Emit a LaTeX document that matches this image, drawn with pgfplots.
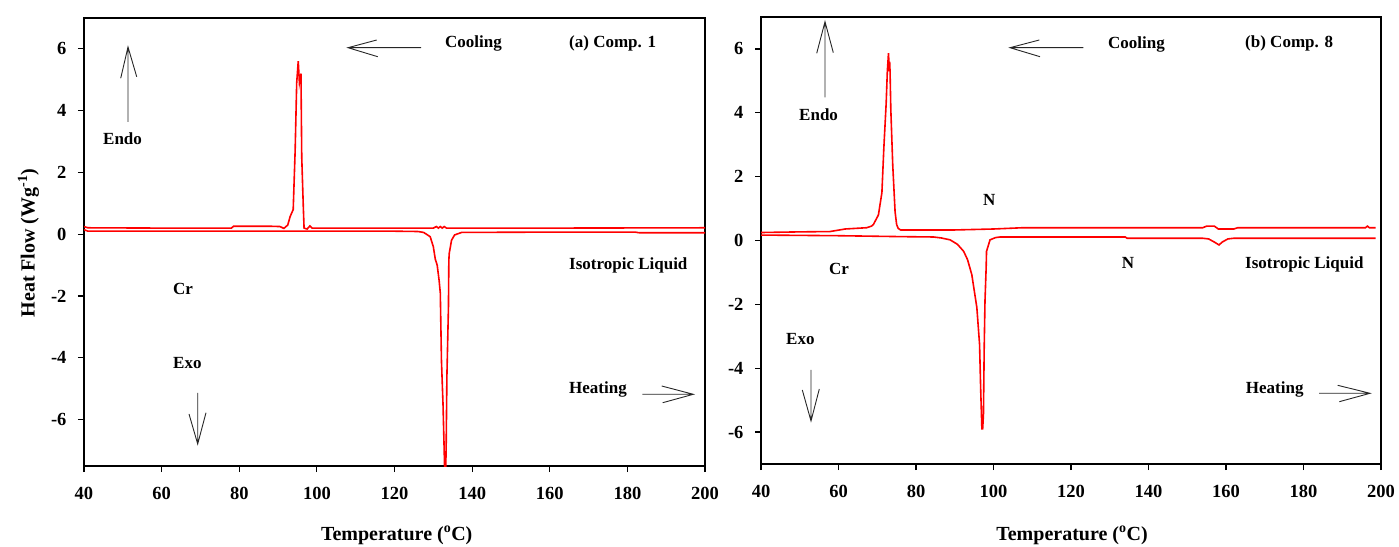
\documentclass[border=0pt]{standalone}
\usepackage{fontspec}
\setmainfont{Liberation Serif}
\usepackage{pgfplots}
\usepackage{pgfplotstable}
\pgfplotsset{compat=1.18}

% (a) Comp. 1 -- cooling (upper) and heating (lower)
\pgfplotstableread{
x y
40 0.25
41 0.21
60 0.20
78 0.20
78.5 0.26
88 0.26
90.5 0.25
91.5 0.19
92.5 0.30
93.1 0.57
93.9 0.80
94.4 2.70
94.8 4.90
95.2 5.60
95.5 4.90
95.9 5.20
96.1 2.50
96.5 0.90
96.7 0.20
97.5 0.17
98.2 0.27
98.8 0.20
130 0.20
130.8 0.25
131.3 0.20
131.8 0.25
132.3 0.20
132.8 0.25
133.4 0.20
160 0.20
200 0.21
}\coolA
\pgfplotstableread{
x y
40 0.15
41 0.10
60 0.10
100 0.10
120 0.10
126 0.09
127.5 0.06
128.5 -0.02
129.2 -0.08
130.0 -0.40
130.5 -0.80
131.0 -1.00
131.5 -1.50
131.8 -1.90
132.1 -4.10
132.5 -5.50
132.9 -7.50
133.1 -8.00
133.3 -7.00
133.5 -4.60
133.9 -2.35
134.0 -0.85
134.1 -0.62
134.7 -0.19
135.5 -0.02
137.3 0.06
160 0.07
182 0.07
183 0.05
200 0.05
}\heatA
% (b) Comp. 8
\pgfplotstableread{
x y
40 0.25
50 0.27
57.8 0.28
61.7 0.36
67.3 0.40
68.5 0.45
69.0 0.50
70.3 0.80
71.2 1.50
71.7 2.90
72.3 4.30
72.6 5.30
72.9 5.87
73.1 5.30
73.2 5.60
73.3 5.30
73.5 4.10
74.0 2.35
74.6 0.90
75.0 0.50
75.4 0.38
76 0.33
90 0.33
100 0.36
107.6 0.40
154 0.40
155 0.45
157 0.45
158 0.36
162 0.36
163 0.40
196 0.40
196.5 0.45
197 0.40
198.6 0.40
}\coolB
\pgfplotstableread{
x y
40 0.17
50 0.16
60 0.15
76.8 0.12
84.5 0.11
86.5 0.08
88.8 0.02
90.7 -0.12
92.3 -0.34
93.3 -0.60
94.4 -1.07
95.7 -2.10
96.4 -3.25
96.7 -4.70
97.0 -5.90
97.2 -5.90
97.4 -5.47
97.6 -3.35
97.8 -1.90
98.1 -0.86
98.2 -0.34
99.1 0.02
100.5 0.09
101.7 0.11
134 0.11
134.5 0.07
154 0.07
155.5 0.05
157 -0.05
158.2 -0.14
159 -0.05
160.5 0.05
162 0.07
198.6 0.07
}\heatB

\pgfplotsset{
  dsc/.style={
    scale only axis, anchor=south west,
    xmin=40, xmax=200,
    xtick={40,60,...,200},
    xticklabels={40,60,80,100,120,140,160,180,200},
    ytick={-6,-4,-2,0,2,4,6},
    yticklabels={-6,-4,-2,0,2,4,6},
    axis line style={line width=1.4pt},
    tick style={black, line width=1.2pt},
    major tick length=6pt,
    tick align=outside,
    xtick pos=left, ytick pos=left,
    ticklabel style={font=\fontsize{18.5}{20}\selectfont\bfseries},
    xticklabel style={yshift=-12pt},
    yticklabel style={xshift=-8pt},
    clip=true,
  },
  curve/.style={red, line width=1.6pt, no marks},
}

\begin{document}
\begin{tikzpicture}
\path[use as bounding box] (0,0) rectangle (1399pt,546pt);

\begin{axis}[dsc, at={(84pt,80pt)}, width=621pt, height=448pt, ymin=-7.5, ymax=7]
\addplot[curve] table {\coolA};
\addplot[curve] table {\heatA};
\end{axis}

\begin{axis}[dsc, at={(761pt,82pt)}, width=620pt, height=447pt, ymin=-7, ymax=7]
\addplot[curve] table {\coolB};
\addplot[curve] table {\heatB};
\end{axis}

\begin{scope}[x=1pt, y=-1pt, shift={(0pt,546pt)},
  lab/.style={anchor=base west, inner sep=0pt, font=\fontsize{17}{19}\selectfont\bfseries},
  arr/.style={line width=0.9pt, black!85}]
% axis labels
\node[rotate=90, anchor=center, inner sep=0pt, font=\fontsize{20}{22}\selectfont\bfseries] at (28.5,243) {Heat Flow (Wg\textsuperscript{-1})};
\node[anchor=base, inner sep=0pt, font=\fontsize{20}{22}\selectfont\bfseries] at (396.7,540.5) {Temperature (\textsuperscript{o}C)};
\node[anchor=base, inner sep=0pt, font=\fontsize{20}{22}\selectfont\bfseries] at (1072,540.5) {Temperature (\textsuperscript{o}C)};
% panel (a)
\node[lab] at (445,48) {Cooling};
\node[lab] at (569,48) {(a) Comp. 1};
\node[lab] at (103,145) {Endo};
\node[lab] at (173,295) {Cr};
\node[lab] at (173,369) {Exo};
\node[lab] at (569,270) {Isotropic Liquid};
\node[lab] at (569,394) {Heating};
\draw[arr] (128,122) -- (128,47) (120.7,78.3) -- (128,47) -- (136.7,76.7);
\draw[arr] (197.7,393) -- (197.7,444) (189,414) -- (197.7,444) -- (206,412.7);
\draw[arr] (421,47.7) -- (348,47.7) (376.7,40) -- (348,47.7) -- (377.7,56.7);
\draw[arr] (642.3,394.3) -- (693.3,394.3) (661.7,386) -- (693.3,394.3) -- (662.7,402.7);
% panel (b)
\node[lab] at (799,120.7) {Endo};
\node[lab] at (1108,48.3) {Cooling};
\node[lab] at (1245,48) {(b) Comp. 8};
\node[lab] at (983,206) {N};
\node[lab] at (829,275) {Cr};
\node[lab] at (1121.7,268.3) {N};
\node[lab] at (1245,268.3) {Isotropic Liquid};
\node[lab] at (786,345) {Exo};
\node[lab] at (1245.7,393.3) {Heating};
\draw[arr] (825,97.3) -- (825,21.7) (816.7,53.3) -- (825,21.7) -- (833.3,52.7);
\draw[arr] (811,370) -- (811,421) (802.3,390) -- (811,421) -- (819.3,389);
\draw[arr] (1083.3,47.7) -- (1010,47.7) (1039.3,40) -- (1010,47.7) -- (1040,56.7);
\draw[arr] (1319,393.3) -- (1370,393.3) (1337.7,385.3) -- (1370,393.3) -- (1339.3,401.7);
\end{scope}
\end{tikzpicture}
\end{document}
